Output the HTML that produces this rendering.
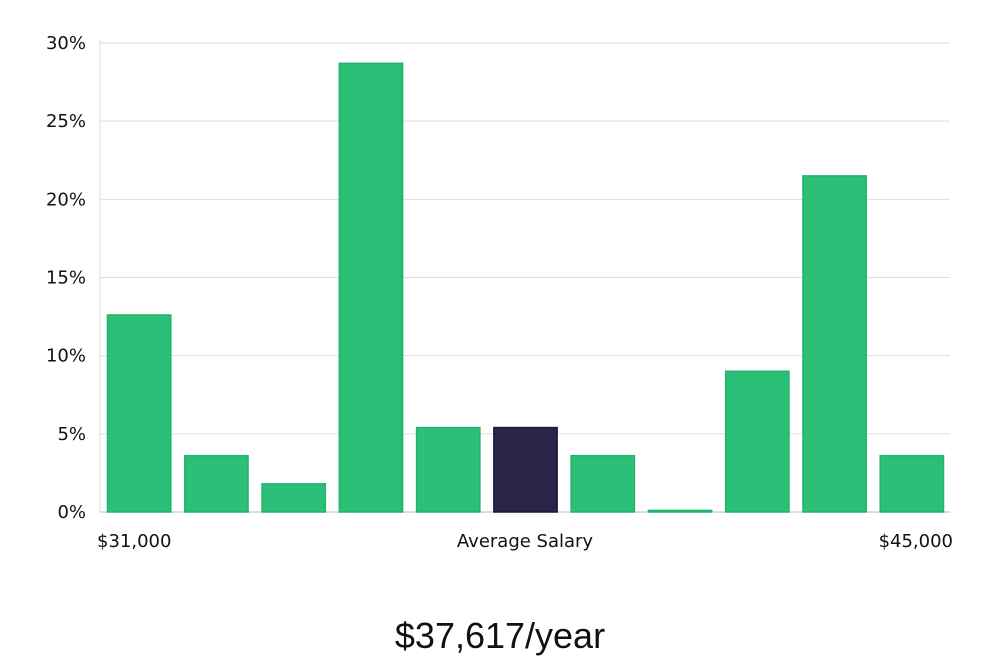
<!DOCTYPE html>
<html><head><meta charset="utf-8"><style>
body{margin:0;background:#fff;width:1000px;height:660px;overflow:hidden;font-family:"DejaVu Sans","Liberation Sans",sans-serif;}
</style></head><body>
<svg id="chart" width="1000" height="660" xmlns="http://www.w3.org/2000/svg">
<g id="grid"></g>
<g id="yaxis"></g>
<g id="bars"></g>
<text x="97" y="547" font-size="18" fill="#111">$31,000</text>
<text x="525" y="547" font-size="18" fill="#111" text-anchor="middle">Average Salary</text>
<text x="953" y="547" font-size="18" fill="#111" text-anchor="end">$45,000</text>
<text x="500" y="648" font-size="36" fill="#111" text-anchor="middle" font-family="'Liberation Sans',sans-serif">$37,617/year</text>
</svg>
<script>
const values=[12.6,3.6,1.8,28.7,5.4,5.4,3.6,0.1,9.0,21.5,3.6];
const highlight=[false,false,false,false,false,true,false,false,false,false,false];
const yTicks=[0,5,10,15,20,25,30];
const yTickLabels=["0%","5%","10%","15%","20%","25%","30%"];
const NS="http://www.w3.org/2000/svg";
const x0=100,x1=950,yTop=43,yBot=512,yMax=30;
const y=v=>yBot-(v/yMax)*(yBot-yTop);
const slot=(x1-x0)/values.length;
const grid=document.getElementById('grid'),ya=document.getElementById('yaxis'),bars=document.getElementById('bars');
yTicks.forEach((t,i)=>{
 const l=document.createElementNS(NS,'line');
 
 
 l.setAttribute('x1',x0);l.setAttribute('x2',x1);l.setAttribute('y1',y(t));l.setAttribute('y2',y(t));
 l.setAttribute('stroke',t===0?'#bbb':'#ddd');l.setAttribute('stroke-width','1');
 grid.appendChild(l);
 const tx=document.createElementNS(NS,'text');
 
 
 tx.setAttribute('x',86);tx.setAttribute('y',y(t)+6);tx.setAttribute('text-anchor','end');
 tx.setAttribute('font-size','18');tx.setAttribute('fill','#111');tx.textContent=yTickLabels[i];
 ya.appendChild(tx);
});
const ax=document.createElementNS(NS,'line');


ax.setAttribute('x1',x0);ax.setAttribute('x2',x0);ax.setAttribute('y1',40);ax.setAttribute('y2',yBot);ax.setAttribute('stroke','#ddd');
ya.appendChild(ax);
values.forEach((v,i)=>{
 const r=document.createElementNS(NS,'rect');
 
 
 const bx=x0+i*slot+7.5,bw=slot-14;
 r.setAttribute('x',bx);r.setAttribute('width',bw);
 r.setAttribute('y',y(v));r.setAttribute('height',Math.max(1,yBot-y(v)));
 r.setAttribute('fill',highlight[i]?'#2a2548':'#2bbf77');
 r.setAttribute('stroke',highlight[i]?'#1a1638':'#1fb46a');r.setAttribute('stroke-width','1.5');
 bars.appendChild(r);
});
</script>
</body></html>
